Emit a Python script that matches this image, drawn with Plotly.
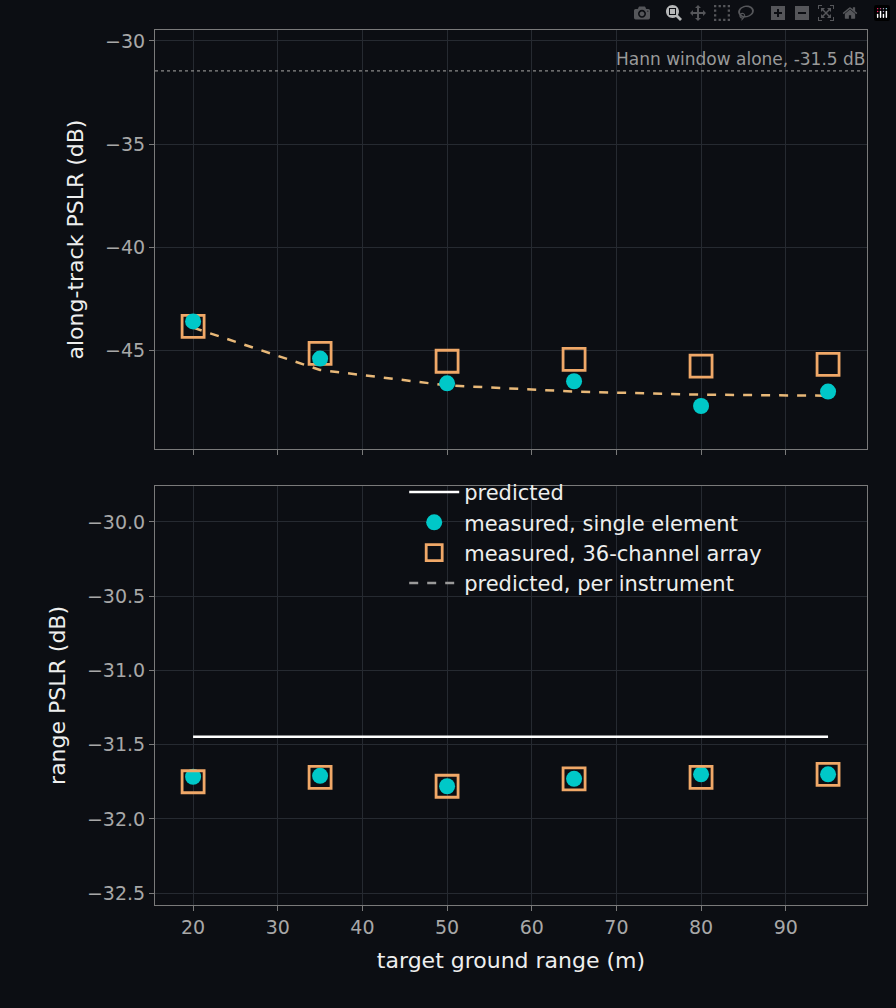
import plotly.graph_objects as go
from plotly.subplots import make_subplots

ranges = [20, 35, 50, 65, 80, 95]
at_single = [-43.6, -45.4, -46.6, -46.5, -47.7, -47.0]
at_array = [-43.84, -45.15, -45.53, -45.44, -45.77, -45.68]
at_pred = [-43.9, -45.95, -46.7, -47.0, -47.15, -47.2]
hann = -31.45
rg_pred = [-31.446] * 6
rg_single = [-31.716, -31.71, -31.78, -31.73, -31.70, -31.70]
rg_array = [-31.75, -31.72, -31.78, -31.73, -31.72, -31.70]

BG = "#0c0e13"
CYAN = "#00c8c8"
ORANGE = "#f0a868"
GRID = "#262a31"
fig = make_subplots(rows=2, cols=1, shared_xaxes=True, vertical_spacing=0.042)

mk_sq = dict(symbol="square-open", size=22, color=ORANGE, line=dict(width=2.8, color=ORANGE))
mk_ci = dict(symbol="circle", size=16, color=CYAN)

fig.add_trace(go.Scatter(x=ranges, y=at_pred, mode="lines", line=dict(color="#e8b878", dash="dash", width=2.5), showlegend=False), 1, 1)
fig.add_trace(go.Scatter(x=ranges, y=at_array, mode="markers", marker=mk_sq, showlegend=False), 1, 1)
fig.add_trace(go.Scatter(x=ranges, y=at_single, mode="markers", marker=mk_ci, showlegend=False), 1, 1)

fig.add_trace(go.Scatter(x=ranges, y=rg_pred, mode="lines", line=dict(color="white", width=2.5), name="predicted"), 2, 1)
fig.add_trace(go.Scatter(x=ranges, y=rg_single, mode="markers", marker=mk_ci, name="measured, single element"), 2, 1)
fig.add_trace(go.Scatter(x=ranges, y=rg_array, mode="markers", marker=mk_sq, name="measured, 36-channel array"), 2, 1)
fig.add_trace(go.Scatter(x=[None], y=[None], mode="lines", line=dict(color="#9a9a9a", dash="dash", width=2.5), name="predicted, per instrument"), 2, 1)

fig.add_shape(type="line", xref="x domain", yref="y", x0=0, x1=1, y0=hann, y1=hann,
              line=dict(color="#8a8a8a", dash="dot", width=1.2))
fig.add_annotation(xref="x domain", yref="y", x=1, y=hann, text="Hann window alone, -31.5 dB",
                   showarrow=False, xanchor="right", yanchor="bottom", font=dict(color="#9a9a9a", size=17))

ax = dict(showline=True, mirror=True, linecolor="#7a7a7a", gridcolor=GRID, zeroline=False,
          ticks="outside", tickcolor="#7a7a7a", tickfont=dict(color="#a8a8a8", size=19))
fig.update_xaxes(**ax, range=[15.5, 99.6], dtick=10)
fig.update_xaxes(title=dict(text="target ground range (m)", font=dict(color="#eeeeee", size=22)), row=2, col=1)
fig.update_yaxes(**ax)
fig.update_yaxes(range=[-49.79, -29.47], dtick=5, tickformat=".0f",
                 title=dict(text="along-track PSLR (dB)", font=dict(color="#eeeeee", size=22)), row=1, col=1)
fig.update_yaxes(range=[-32.58, -29.757], dtick=0.5, tickformat=".1f",
                 title=dict(text="range PSLR (dB)", font=dict(color="#eeeeee", size=22)), row=2, col=1)

fig.update_layout(width=896, height=1008, paper_bgcolor=BG, plot_bgcolor=BG,
                  margin=dict(l=155, r=29, t=30, b=103),
                  font=dict(family="DejaVu Sans", color="#eeeeee"),
                  legend=dict(x=0.35, y=0.495, xanchor="left", yanchor="top", bgcolor="rgba(0,0,0,0)",
                              font=dict(size=21, color="#eeeeee"), itemwidth=50, tracegroupgap=8))
fig.write_html("out.html", post_script="document.body.style.margin='0';document.body.style.background='#0c0e13';")
